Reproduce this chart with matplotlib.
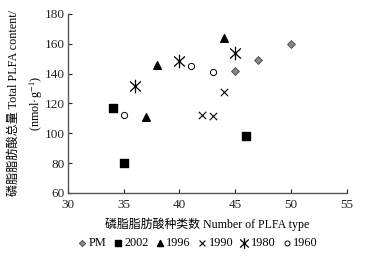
import matplotlib
matplotlib.use("Agg")
import matplotlib.pyplot as plt
from matplotlib.path import Path

plt.rcParams['font.family'] = ['Liberation Serif', 'Noto Sans CJK SC']
plt.rcParams['mathtext.fontset'] = 'stix'

pm_x = [45, 47, 50]
pm_y = [141.5, 149, 160]
y2002_x = [34, 35, 46]
y2002_y = [117, 80, 98]
y1996_x = [37, 38, 44]
y1996_y = [111, 146, 164]
y1990_x = [42, 43, 44]
y1990_y = [112, 111.5, 128]
y1980_x = [36, 40, 45]
y1980_y = [132, 148.5, 154]
y1960_x = [35, 41, 43]
y1960_y = [112, 145, 141]

xticks = [30, 35, 40, 45, 50, 55]
yticks = [60, 80, 100, 120, 140, 160, 180]

star = Path([(0, -1), (0, 1), (-0.8, -0.75), (0.8, 0.75), (-0.8, 0.75), (0.8, -0.75)],
            [Path.MOVETO, Path.LINETO, Path.MOVETO, Path.LINETO, Path.MOVETO, Path.LINETO])

fig = plt.figure(figsize=(3.71, 2.58), dpi=100)
ax = fig.add_axes([0.183, 0.252, 0.752, 0.694])

ax.scatter(pm_x, pm_y, marker='D', s=16, c='#888888', edgecolors='#444444', linewidths=0.6, label='PM')
ax.scatter(y2002_x, y2002_y, marker='s', s=26, c='black', label='2002')
ax.scatter(y1996_x, y1996_y, marker='^', s=30, c='black', label='1996')
ax.scatter(y1990_x, y1990_y, marker='x', s=28, c='black', linewidths=0.8, label='1990')
ax.scatter(y1980_x, y1980_y, marker=star, s=95, c='black', linewidths=0.9, label='1980')
ax.scatter(y1960_x, y1960_y, marker='o', s=20, facecolors='white', edgecolors='black', linewidths=0.7, label='1960')

ax.set_xlim(30, 55)
ax.set_ylim(60, 180)
ax.set_xticks(xticks)
ax.set_yticks(yticks)
ax.tick_params(direction='in', length=3, width=0.8, labelsize=9.5, colors='#222222')
ax.tick_params(axis='x', pad=4)
ax.tick_params(axis='y', pad=2)
for s in ['top', 'right']:
    ax.spines[s].set_visible(False)
for s in ['left', 'bottom']:
    ax.spines[s].set_color('#555555')
    ax.spines[s].set_linewidth(1.0)

ax.set_xlabel('磷脂脂肪酸种类数 Number of PLFA type', fontsize=8.6, labelpad=5)
ax.set_ylabel('磷脂脂肪酸总量 Total PLFA content/\n(nmol·g$^{-1}$)', fontsize=8.7, labelpad=0,
              linespacing=1.6)

leg = fig.legend(loc='center', bbox_to_anchor=(0.53, 0.058), ncol=6, frameon=False,
                 fontsize=8.8, handletextpad=0.0, columnspacing=0.35, handlelength=1.1,
                 markerscale=0.8, borderaxespad=0)

fig.savefig('out.png', dpi=100)
